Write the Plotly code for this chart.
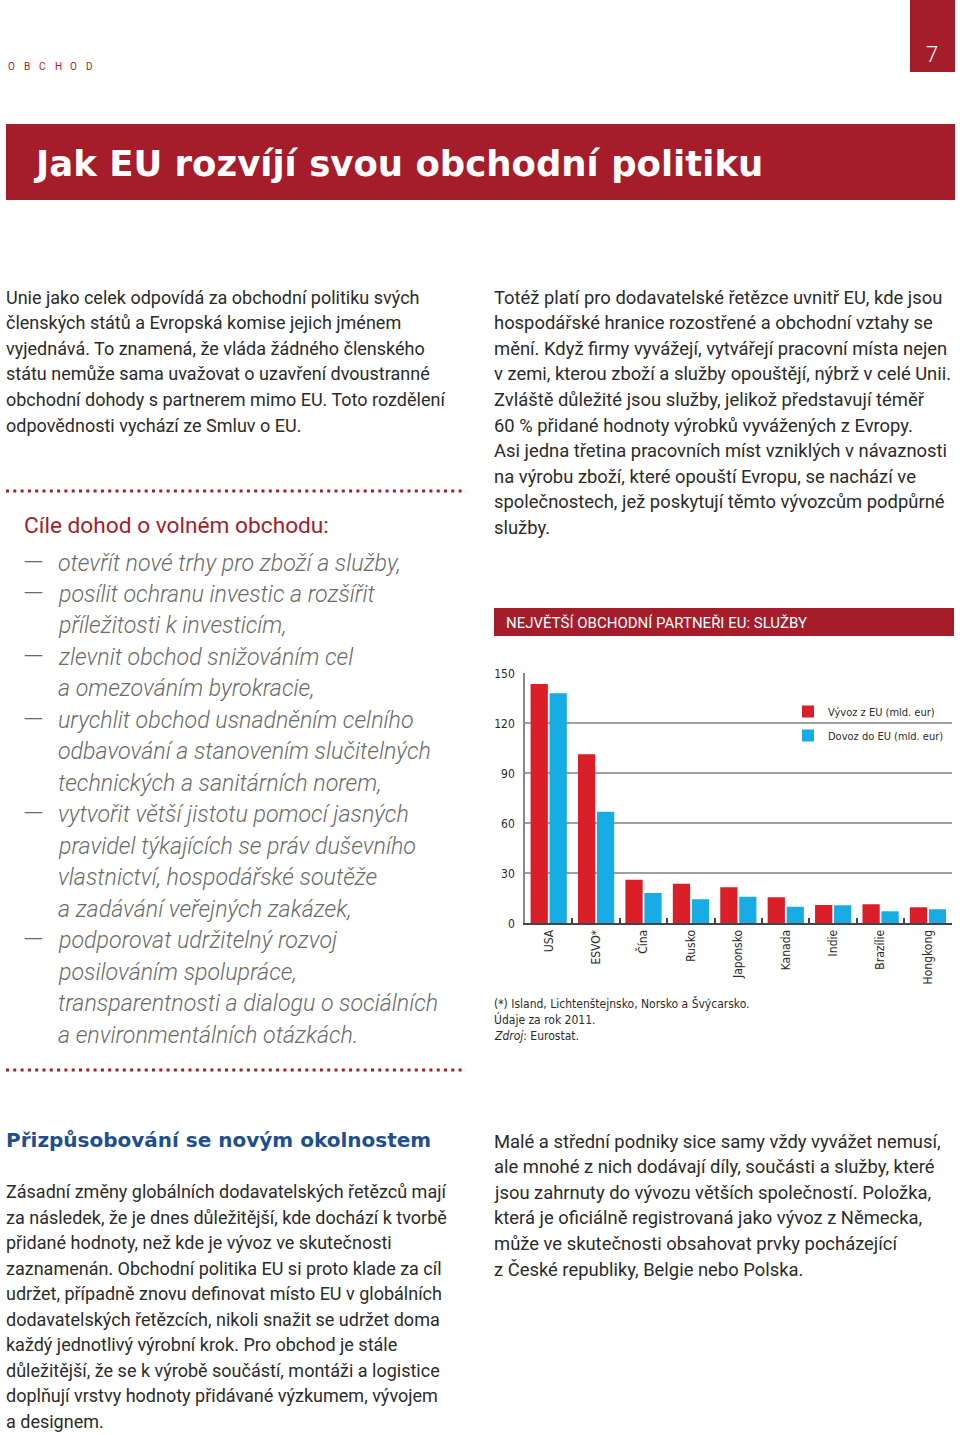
import plotly.graph_objects as go

W, H = 960, 1435

# ---------------- data ----------------
categories = ["USA", "ESVO*", "Čína", "Rusko", "Japonsko", "Kanada", "Indie", "Brazílie", "Hongkong"]
export_eu = [143.6, 101.4, 26.2, 23.8, 21.6, 15.6, 11.0, 11.4, 9.6]
import_eu = [138.0, 67.0, 18.2, 14.4, 16.0, 10.0, 10.8, 7.2, 8.4]
series_names = ["Vývoz z EU (mld. eur)", "Dovoz do EU (mld. eur)"]
y_ticks = [0, 30, 60, 90, 120, 150]

# ---------------- texts ----------------
section_label = "OBCHOD"
page_number = "7"
page_title = "Jak EU rozvíjí svou obchodní politiku"
chart_title = "NEJVĚTŠÍ OBCHODNÍ PARTNEŘI EU: SLUŽBY"
intro_left = [
    "Unie jako celek odpovídá za obchodní politiku svých",
    "členských států a Evropská komise jejich jménem",
    "vyjednává. To znamená, že vláda žádného členského",
    "státu nemůže sama uvažovat o uzavření dvoustranné",
    "obchodní dohody s partnerem mimo EU. Toto rozdělení",
    "odpovědnosti vychází ze Smluv o EU.",
]
intro_right = [
    "Totéž platí pro dodavatelské řetězce uvnitř EU, kde jsou",
    "hospodářské hranice rozostřené a obchodní vztahy se",
    "mění. Když firmy vyvážejí, vytvářejí pracovní místa nejen",
    "v zemi, kterou zboží a služby opouštějí, nýbrž v celé Unii.",
    "Zvláště důležité jsou služby, jelikož představují téměř",
    "60 % přidané hodnoty výrobků vyvážených z Evropy.",
    "Asi jedna třetina pracovních míst vzniklých v návaznosti",
    "na výrobu zboží, které opouští Evropu, se nachází ve",
    "společnostech, jež poskytují těmto vývozcům podpůrné",
    "služby.",
]
box_heading = "Cíle dohod o volném obchodu:"
box_lines = [
    "otevřít nové trhy pro zboží a služby,",
    "posílit ochranu investic a rozšířit",
    "příležitosti k investicím,",
    "zlevnit obchod snižováním cel",
    "a omezováním byrokracie,",
    "urychlit obchod usnadněním celního",
    "odbavování a stanovením slučitelných",
    "technických a sanitárních norem,",
    "vytvořit větší jistotu pomocí jasných",
    "pravidel týkajících se práv duševního",
    "vlastnictví, hospodářské soutěže",
    "a zadávání veřejných zakázek,",
    "podporovat udržitelný rozvoj",
    "posilováním spolupráce,",
    "transparentnosti a dialogu o sociálních",
    "a environmentálních otázkách.",
]
box_dash_lines = [0, 1, 3, 5, 8, 12]
footnotes = [
    "(*) Island, Lichtenštejnsko, Norsko a Švýcarsko.",
    "Údaje za rok 2011.",
    "<i>Zdroj</i>: Eurostat.",
]
bottom_heading = "Přizpůsobování se novým okolnostem"
bottom_left = [
    "Zásadní změny globálních dodavatelských řetězců mají",
    "za následek, že je dnes důležitější, kde dochází k tvorbě",
    "přidané hodnoty, než kde je vývoz ve skutečnosti",
    "zaznamenán. Obchodní politika EU si proto klade za cíl",
    "udržet, případně znovu definovat místo EU v globálních",
    "dodavatelských řetězcích, nikoli snažit se udržet doma",
    "každý jednotlivý výrobní krok. Pro obchod je stále",
    "důležitější, že se k výrobě součástí, montáži a logistice",
    "doplňují vrstvy hodnoty přidávané výzkumem, vývojem",
    "a designem.",
]
bottom_right = [
    "Malé a střední podniky sice samy vždy vyvážet nemusí,",
    "ale mnohé z nich dodávají díly, součásti a služby, které",
    "jsou zahrnuty do vývozu větších společností. Položka,",
    "která je oficiálně registrovaná jako vývoz z Německa,",
    "může ve skutečnosti obsahovat prvky pocházející",
    "z České republiky, Belgie nebo Polska.",
]

# ---------------- styles ----------------
RED = "#a51c2b"
BAR_RED = "#da1f28"
BAR_BLUE = "#18ace4"
TXT = "#2b2b2b"
GREY_IT = "#6b6b6b"
BLUE_H = "#1d4f91"
BODY_FONT = "Roboto, Lato, sans-serif"
WIDE_BOLD = "DejaVu Sans, Roboto, sans-serif"
NARROW = "Liberation Sans Narrow, DejaVu Sans Condensed, Roboto, sans-serif"


def px(x):
    return x / W


def py(y):
    return 1 - y / H


annotations = []
shapes = []


def text(x, y, s, size, color=TXT, family=BODY_FONT, anchor="left", weight="normal", style="normal"):
    annotations.append(dict(
        x=px(x), y=py(y), xref="paper", yref="paper", text=s, showarrow=False,
        xanchor=anchor, yanchor="middle", align=anchor if anchor != "center" else "center",
        borderpad=0, font=dict(size=size, color=color, family=family, weight=weight, style=style),
    ))


def rect(x0, y0, x1, y1, color):
    shapes.append(dict(type="rect", xref="paper", yref="paper", x0=px(x0), x1=px(x1),
                       y0=py(y1), y1=py(y0), fillcolor=color, line=dict(width=0), layer="below"))


# header
for i, ch in enumerate(section_label):
    text(7 + i * 15.5, 66.5, ch, 10, color=RED)
rect(910, 0, 955, 72, RED)
text(932, 54, page_number, 22, color="white", anchor="center", weight=300)
rect(6, 124, 955, 200, RED)
text(33, 163.5, page_title, 35.5, color="white", family=WIDE_BOLD, weight="bold")

# intro paragraphs
for i, s in enumerate(intro_left):
    text(5, 297 + i * 25.6, s, 18)
for i, s in enumerate(intro_right):
    text(493, 297 + i * 25.6, s, 18.4)

# dotted rules
for yy in (491, 1070):
    shapes.append(dict(type="line", xref="paper", yref="paper", x0=px(6), x1=px(466),
                       y0=py(yy), y1=py(yy), line=dict(color=RED, width=3, dash="3px,4.3px")))

# box with goals
text(23, 525.5, box_heading, 22.7, color=RED)
for i, s in enumerate(box_lines):
    yy = 562.5 + i * 31.47
    if i in box_dash_lines:
        text(22, yy, "—", 27, color=GREY_IT, weight=300)
    text(57, yy, s, 23.2, color=GREY_IT, style="italic", weight=300)

# chart header
rect(494, 608, 954, 636, RED)
text(505, 622.5, chart_title, 15, color="white")

# footnotes
for i, s in enumerate(footnotes):
    text(493, 1003 + i * 16.5, s, 12, family=NARROW)

# bottom
text(5, 1139.5, bottom_heading, 20, color=BLUE_H, family=WIDE_BOLD, weight="bold")
for i, s in enumerate(bottom_left):
    text(5, 1191.5 + i * 25.56, s, 18)
for i, s in enumerate(bottom_right):
    text(493, 1141 + i * 25.6, s, 18.4)

# ---------------- chart ----------------
fig = go.Figure()
fig.add_trace(go.Bar(x=categories, y=export_eu, name=series_names[0], legend="legend",
                     marker=dict(color=BAR_RED, line=dict(width=0))))
fig.add_trace(go.Bar(x=categories, y=import_eu, name=series_names[1], legend="legend2",
                     marker=dict(color=BAR_BLUE, line=dict(width=0))))

legend_common = dict(xanchor="left", yanchor="middle", bgcolor="rgba(0,0,0,0)",
                     font=dict(size=11, family=NARROW, color=TXT))

fig.update_layout(
    width=W, height=H, margin=dict(l=0, r=0, t=0, b=0, pad=0, autoexpand=False),
    paper_bgcolor="white", plot_bgcolor="white",
    barmode="group", bargap=0.2, bargroupgap=0.09,
    font=dict(family=NARROW, size=12, color=TXT),
    xaxis=dict(domain=[px(525), px(951.7)], showline=True, linecolor="#444", linewidth=1.5,
               ticks="inside", tickson="boundaries", ticklen=6, tickcolor="#444", tickwidth=1.5,
               tickangle=-90, showgrid=False, tickfont=dict(size=12, family=NARROW, color=TXT),
               automargin=False, fixedrange=True),
    yaxis=dict(domain=[py(923.3), py(673.3)], range=[0, 150], tickvals=y_ticks,
               showline=True, linecolor="#888", linewidth=1.5, showgrid=True, gridcolor="#a0a0a0",
               gridwidth=1.5, zeroline=False, ticks="", ticklabelstandoff=6,
               tickfont=dict(size=12, family=NARROW, color=TXT), automargin=False, fixedrange=True),
    legend=dict(x=px(788), y=py(711.5), **legend_common),
    legend2=dict(x=px(788), y=py(735.5), **legend_common),
    showlegend=True,
    annotations=annotations, shapes=shapes,
)

fig.write_html(
    "out.html",
    config={"displayModeBar": False},
    post_script=(
        "document.documentElement.style.margin='0';"
        "document.documentElement.style.padding='0';"
        "document.documentElement.style.overflow='hidden';"
        "document.body.style.margin='0';"
        "document.body.style.padding='0';"
        "document.body.style.overflow='hidden';"
        "var gd=document.getElementById('{plot_id}');"
        "gd.style.position='absolute';gd.style.top='0px';gd.style.left='0px';"
    ),
)
